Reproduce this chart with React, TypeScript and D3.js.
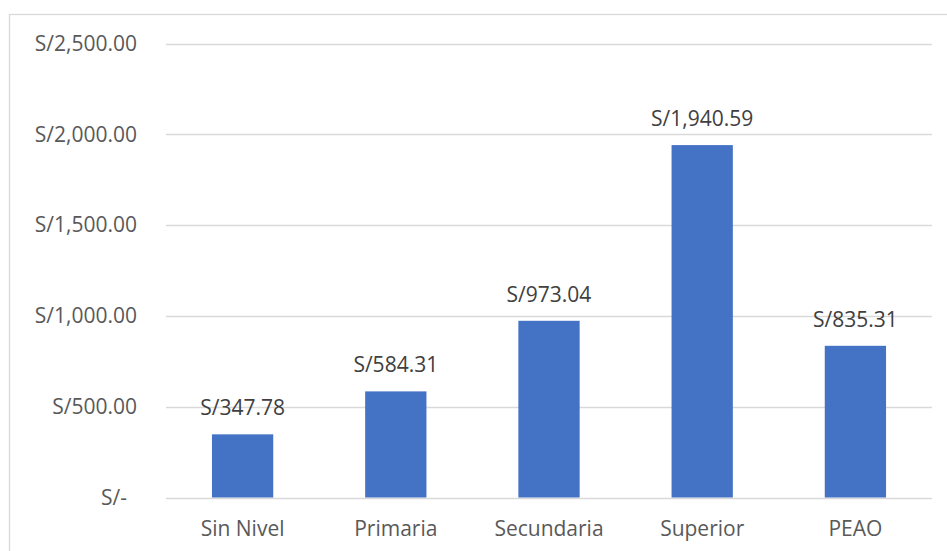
import React from "react";
import * as d3 from "d3";

const categories: string[] = ["Sin Nivel", "Primaria", "Secundaria", "Superior", "PEAO"];
const values: number[] = [347.78, 584.31, 973.04, 1940.59, 835.31];
const yTicks: number[] = [0, 500, 1000, 1500, 2000, 2500];

const W = 947;
const H = 551;
const plotLeft = 166;
const plotRight = 932;
const plotTop = 43.5;
const plotBottom = 497.5;
const FONT = "'Open Sans', 'Noto Sans', sans-serif";

const fmtTick = (v: number) =>
  v === 0 ? "S/-" : "S/" + d3.format(",.2f")(v);
const fmtLabel = (v: number) => "S/" + d3.format(",.2f")(v);

export default function App() {
  const x = d3
    .scaleBand<string>()
    .domain(categories)
    .range([plotLeft, plotRight])
    .paddingInner(0.6)
    .paddingOuter(0.3);
  const y = d3.scaleLinear().domain([0, 2500]).range([plotBottom, plotTop]);

  return (
    <svg
      width={W}
      height={H}
      style={{ position: "absolute", left: 0, top: 0, background: "#fff" }}
    >
      <rect x={9.5} y={14.5} width={W + 10} height={H + 10} fill="#fff" stroke="#d9d9d9" strokeWidth={1.3} />
      {yTicks.map((t) => (
        <g key={t}>
          <line
            x1={plotLeft}
            x2={plotRight}
            y1={Math.round(y(t)) + 0.5}
            y2={Math.round(y(t)) + 0.5}
            stroke="#d9d9d9"
            strokeWidth={1.3}
          />
          <text
            x={t === 0 ? 127 : 137}
            y={y(t)}
            dy="0.35em"
            textAnchor="end"
            fontFamily={FONT}
            fontSize={21}
            fill="#595959"
          >
            {fmtTick(t)}
          </text>
        </g>
      ))}
      {categories.map((c, i) => {
        const bx = x(c)!;
        const bw = x.bandwidth();
        const cx = bx + bw / 2;
        return (
          <g key={c}>
            <rect x={bx} y={y(values[i])} width={bw} height={plotBottom - y(values[i])} fill="#4472C4" />
            <text
              x={cx}
              y={y(values[i]) - 19}
              textAnchor="middle"
              fontFamily={FONT}
              fontSize={21}
              fill="#404040"
            >
              {fmtLabel(values[i])}
            </text>
            <text
              x={cx}
              y={535.5}
              textAnchor="middle"
              fontFamily={FONT}
              fontSize={21}
              fill="#595959"
            >
              {c}
            </text>
          </g>
        );
      })}
    </svg>
  );
}
